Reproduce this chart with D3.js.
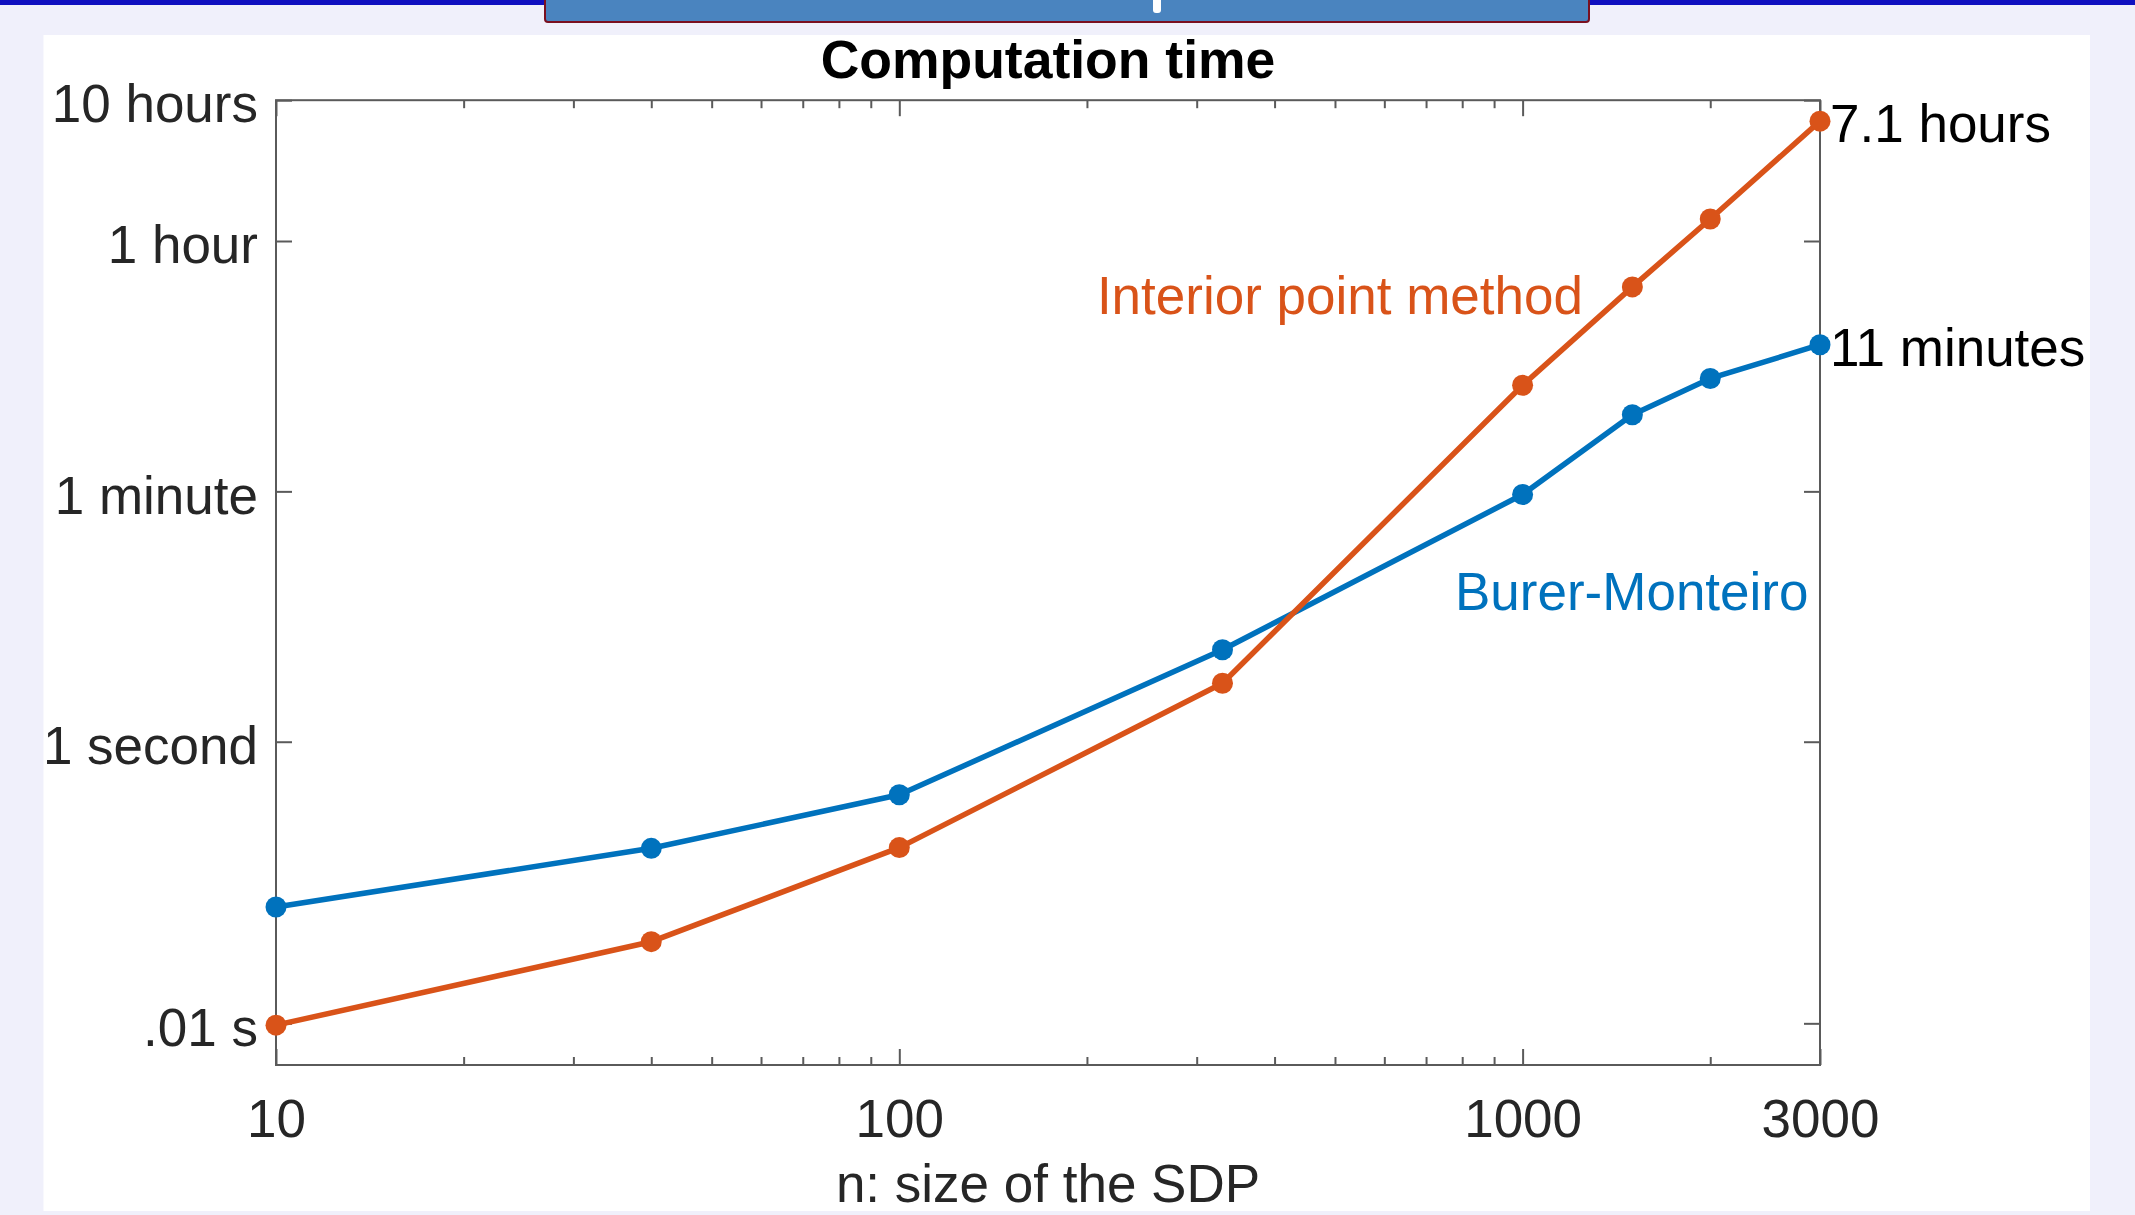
<!DOCTYPE html>
<html>
<head>
<meta charset="utf-8">
<script src="https://cdn.jsdelivr.net/npm/d3@7/dist/d3.min.js"></script>
<style>
  html, body { margin: 0; padding: 0; background: #F0F0FB; }
  svg { display: block; }
  text { font-family: "Liberation Sans", Arial, Helvetica, sans-serif; }
</style>
</head>
<body>
<svg id="chart" width="2135" height="1215"></svg>
<script>
// ---- data ----
const nValues = [10, 40, 100, 330, 1000, 1500, 2000, 3000];
const burerMonteiro = [0.067, 0.175, 0.42, 4.5, 57, 210, 380, 660];      // seconds
const interiorPoint = [0.0097, 0.038, 0.177, 2.6, 340, 1700, 5160, 25560]; // seconds
const xTickValues = [10, 100, 1000, 3000];
const xTickLabels = ["10", "100", "1000", "3000"];
const xMinorTicks = [20, 30, 40, 50, 60, 70, 80, 90, 200, 300, 400, 500, 600, 700, 800, 900, 2000];
const yTickValues = [0.01, 1, 60, 3600, 36000];
const yTickLabels = [".01 s", "1 second", "1 minute", "1 hour", "10 hours"];
const endLabels = ["11 minutes", "7.1 hours"];
const seriesNames = ["Burer-Monteiro", "Interior point method"];
const titleText = "Computation time";
const xLabelText = "n: size of the SDP";

(function () {
// ---- layout ----
const W = 2135, H = 1215;
const pLeft = 276, pRight = 1820, pTop = 100.2, pBottom = 1065;
const blue = "#0072BD", orange = "#D95319";
const FS = 53;

const svg = d3.select("#chart");

// background decorations
svg.append("rect").attr("x", 0).attr("y", 0).attr("width", W).attr("height", H).attr("fill", "#F0F0FB");
svg.append("rect").attr("x", 0).attr("y", 0).attr("width", W).attr("height", 5).attr("fill", "#1010C0");
svg.append("rect").attr("x", 43.5).attr("y", 35).attr("width", 2090 - 43.5).attr("height", 1211 - 35).attr("fill", "#ffffff");
svg.append("rect").attr("x", 545).attr("y", -4).attr("width", 1044).attr("height", 26)
  .attr("rx", 3).attr("fill", "#4A84BF").attr("stroke", "#7A1020").attr("stroke-width", 2);
svg.append("rect").attr("x", 1153).attr("y", -4).attr("width", 8).attr("height", 17).attr("rx", 3).attr("fill", "#ffffff");

// scales
const x = d3.scaleLog().domain([10, 3000]).range([pLeft, pRight]);
const yMin = 36000 * Math.pow(10, -(pBottom - pTop) / 140.8);
const y = d3.scaleLog().domain([yMin, 36000]).range([pBottom, pTop]);

const axisColor = "#5a5a5a";
function styleAxis(g) {
  g.select(".domain").remove();
  g.selectAll(".tick line").attr("stroke", axisColor).attr("stroke-width", 2);
  g.selectAll(".tick text").attr("fill", "#262626").attr("font-size", FS).attr("font-family", "Liberation Sans, Arial, sans-serif");
}

// bottom axis: major with labels
svg.append("g").attr("transform", `translate(0,${pBottom})`)
  .call(d3.axisBottom(x).tickValues(xTickValues).tickSizeInner(-16).tickSizeOuter(0).tickPadding(34)
    .tickFormat((d, i) => xTickLabels[i]))
  .call(styleAxis);
svg.append("g").attr("transform", `translate(0,${pBottom})`)
  .call(d3.axisBottom(x).tickValues(xMinorTicks).tickSizeInner(-8).tickSizeOuter(0).tickFormat(""))
  .call(styleAxis);
// top axis (mirror)
svg.append("g").attr("transform", `translate(0,${pTop})`)
  .call(d3.axisTop(x).tickValues(xTickValues).tickSizeInner(-16).tickSizeOuter(0).tickFormat(""))
  .call(styleAxis);
svg.append("g").attr("transform", `translate(0,${pTop})`)
  .call(d3.axisTop(x).tickValues(xMinorTicks).tickSizeInner(-8).tickSizeOuter(0).tickFormat(""))
  .call(styleAxis);
// left axis
svg.append("g").attr("transform", `translate(${pLeft},0)`)
  .call(d3.axisLeft(y).tickValues(yTickValues).tickSizeInner(-16).tickSizeOuter(0).tickPadding(18)
    .tickFormat((d, i) => yTickLabels[i]))
  .call(styleAxis)
  .call(g => g.selectAll(".tick text").attr("dy", "0.41em"));
// right axis
svg.append("g").attr("transform", `translate(${pRight},0)`)
  .call(d3.axisRight(y).tickValues(yTickValues).tickSizeInner(-16).tickSizeOuter(0).tickFormat(""))
  .call(styleAxis);

// box
svg.append("rect").attr("x", pLeft).attr("y", pTop).attr("width", pRight - pLeft).attr("height", pBottom - pTop)
  .attr("fill", "none").attr("stroke", axisColor).attr("stroke-width", 2);

// series
const series = [
  { name: seriesNames[0], values: burerMonteiro, color: blue },
  { name: seriesNames[1], values: interiorPoint, color: orange }
];
const line = d3.line().x(d => x(d[0])).y(d => y(d[1]));
series.forEach(s => {
  const pts = nValues.map((n, i) => [n, s.values[i]]);
  svg.append("path").datum(pts).attr("d", line).attr("fill", "none")
    .attr("stroke", s.color).attr("stroke-width", 5.5).attr("stroke-linejoin", "round");
  svg.append("g").selectAll("circle").data(pts).join("circle")
    .attr("cx", d => x(d[0])).attr("cy", d => y(d[1])).attr("r", 10.5).attr("fill", s.color);
});

// end labels
series.forEach((s, i) => {
  const last = s.values[s.values.length - 1];
  svg.append("text").attr("x", x(3000) + 10).attr("y", y(last) + 21)
    .attr("font-size", FS).attr("fill", "#000").text(endLabels[i]);
});

// series name annotations
svg.append("text").attr("x", 1583).attr("y", 314).attr("text-anchor", "end")
  .attr("font-size", FS).attr("fill", orange).text(seriesNames[1]);
svg.append("text").attr("x", 1455).attr("y", 610)
  .attr("font-size", FS).attr("fill", blue).text(seriesNames[0]);

// title & x label
svg.append("text").attr("x", (pLeft + pRight) / 2).attr("y", 78).attr("text-anchor", "middle")
  .attr("font-size", 53.5).attr("font-weight", "bold").attr("fill", "#000").text(titleText);
svg.append("text").attr("x", (pLeft + pRight) / 2).attr("y", 1202).attr("text-anchor", "middle")
  .attr("font-size", FS).attr("fill", "#262626").text(xLabelText);
})();
</script>
</body>
</html>
